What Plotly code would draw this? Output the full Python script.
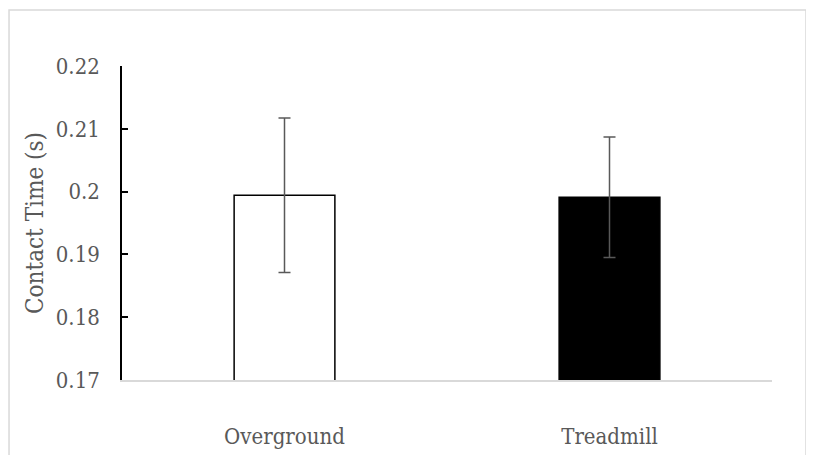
import plotly.graph_objects as go

categories = ["Overground", "Treadmill"]
means = [0.1994, 0.1991]
errors = [0.0123, 0.0096]
fills = ["#ffffff", "#000000"]
y_ticks = [0.17, 0.18, 0.19, 0.2, 0.21, 0.22]
y_ticklabels = ["0.17", "0.18", "0.19", "0.2", "0.21", "0.22"]

FONT = "DejaVu Serif Condensed, Liberation Serif, serif"
GRAY = "#595959"

fig = go.Figure()
fig.add_trace(go.Bar(
    x=categories,
    y=means,
    width=0.31,
    marker=dict(color=fills, line=dict(color="#000000", width=1.5)),
    error_y=dict(type="data", array=errors, visible=True, color=GRAY, thickness=1.5, width=6),
    showlegend=False,
))

fig.update_layout(
    width=806,
    height=447,
    margin=dict(l=114, r=42, t=58, b=75, autoexpand=False),
    paper_bgcolor="white",
    plot_bgcolor="white",
    font=dict(family=FONT, color=GRAY, size=22),
    xaxis=dict(
        showline=True, linecolor="#d9d9d9", linewidth=1.5,
        ticks="", showgrid=False, zeroline=False, automargin=False,
        tickfont=dict(family=FONT, size=22, color=GRAY),
        ticklabelstandoff=36,
    ),
    yaxis=dict(
        range=[0.17, 0.22],
        tickvals=y_ticks, ticktext=y_ticklabels,
        showline=True, linecolor="#000000", linewidth=1.5,
        ticks="inside", ticklen=6, tickcolor="#000000", tickwidth=1.5,
        showgrid=False, zeroline=False, automargin=False,
        tickfont=dict(family=FONT, size=22, color=GRAY),
        ticklabelstandoff=16,
        title=dict(text="Contact Time (s)", font=dict(family=FONT, size=24, color=GRAY), standoff=5),
    ),
    shapes=[dict(
        type="rect", xref="paper", yref="paper",
        x0=-0.1738, x1=1.0523, y0=-0.3, y1=1.1783,
        line=dict(color="#d9d9d9", width=1.5), fillcolor="rgba(0,0,0,0)", layer="below",
    )],
)

fig.write_html("out.html")
